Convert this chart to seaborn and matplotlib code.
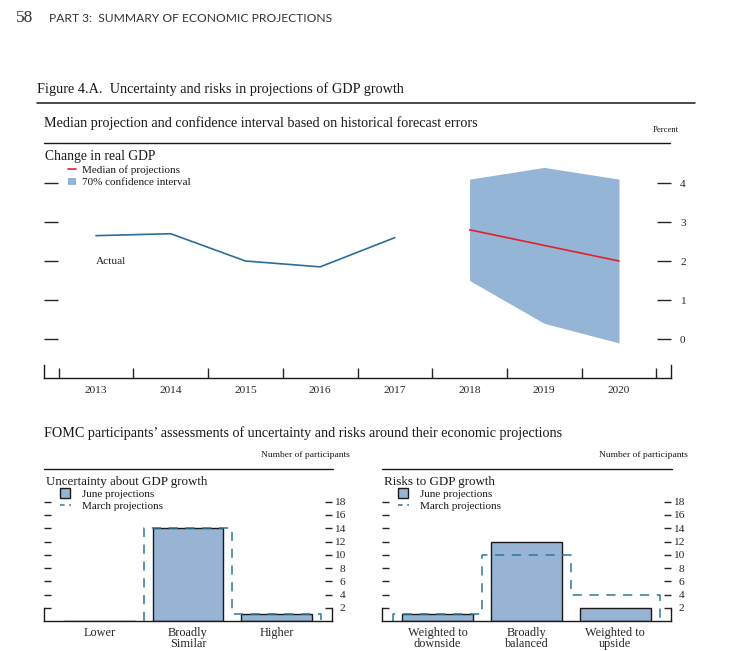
import matplotlib
matplotlib.use("Agg")
import matplotlib.pyplot as plt
import numpy as np
import seaborn as sns
from matplotlib.lines import Line2D
from matplotlib.patches import Patch

# ---- data -------------------------------------------------------------
actual_years = [2013, 2014, 2015, 2016, 2017]
actual_gdp = [2.65, 2.7, 2.0, 1.85, 2.6]
proj_years = [2018, 2019, 2020]
proj_median = [2.8, 2.4, 2.0]
ci_upper = [4.1, 4.4, 4.1]
ci_lower = [1.5, 0.4, -0.1]
year_labels = [str(y) for y in range(2013, 2021)]

unc_cats = ["Lower", "Broadly\nSimilar", "Higher"]
unc_june = [0, 14, 1]
unc_march = [0, 14, 1]
risk_cats = ["Weighted to\ndownside", "Broadly\nbalanced", "Weighted to\nupside"]
risk_june = [1, 12, 2]
risk_march = [1, 10, 4]
count_ticks = [2, 4, 6, 8, 10, 12, 14, 16, 18]

sns.set_style("white")
plt.rcParams["font.family"] = ["Liberation Serif", "DejaVu Serif"]
plt.rcParams["text.color"] = "#1a1a1a"

BAND = "#95b5d7"
BAR = "#97b4d4"
LINE_BLUE = "#2a6e9c"
RED = "#e3212b"
DASH = "#2b7a99"
INK = "#1a1a1a"
W, H = 753, 651
PX = 72 / 100  # points per pixel


def frac(x0, y0, x1, y1):
    return [x0 / W, 1 - y1 / H, (x1 - x0) / W, (y1 - y0) / H]


def rule(fig, x0, x1, y, lw=1.0):
    fig.add_artist(Line2D([x0 / W, x1 / W], [1 - y / H, 1 - y / H], color=INK, lw=lw))


fig = plt.figure(figsize=(W / 100, H / 100), dpi=100)

# header
fig.text(16 / W, 1 - 18 / H, "58", fontsize=12.5, va="center", color="#333333")
fig.text(49 / W, 1 - 19 / H, "PART 3:  SUMMARY OF ECONOMIC PROJECTIONS", fontsize=8.65,
         va="center", family=["Lato", "DejaVu Sans"], color="#333333")
fig.text(37 / W, 1 - 89 / H, "Figure 4.A.  Uncertainty and risks in projections of GDP growth",
         fontsize=10.3, va="center")
rule(fig, 37, 695, 103, lw=1.1)
fig.text(44 / W, 1 - 123 / H,
         "Median projection and confidence interval based on historical forecast errors",
         fontsize=10.2, va="center")
fig.text(666 / W, 1 - 130 / H, "Percent", fontsize=6.2, va="center", ha="center")
rule(fig, 44, 670, 143)

# ---- top panel ---------------------------------------------------------
ax = fig.add_axes(frac(44, 143, 671, 378))
ax.fill_between(proj_years, ci_lower, ci_upper, color=BAND, lw=0)
sns.lineplot(x=actual_years, y=actual_gdp, ax=ax, color=LINE_BLUE, lw=1.2, legend=False)
sns.lineplot(x=proj_years, y=proj_median, ax=ax, color=RED, lw=1.2, legend=False)
ax.set_xlim(2012.304, 2020.696)
ax.set_ylim(-1.0, 5.026)
ax.set_xticks(range(2013, 2021))
ax.set_xticklabels(year_labels)
ax.set_xticks(np.arange(2012.5, 2021, 1), minor=True)
ax.tick_params(axis="x", which="major", length=0, pad=5.5, labelsize=8.2)
ax.tick_params(axis="x", which="minor", direction="in", length=10 * PX, width=1, bottom=True)
ax.set_yticks([0, 1, 2, 3, 4])
ax.tick_params(axis="y", direction="in", length=14 * PX, width=1, left=True, right=True,
               labelleft=False, labelright=True, pad=6.5, labelsize=8.2)
ax.spines["top"].set_visible(False)
for s in ["left", "right"]:
    ax.spines[s].set_bounds(-1.0, -0.67)
for s in ax.spines.values():
    s.set_color(INK)
    s.set_linewidth(1.0)
ax.text(2013, 2.0, "Actual", fontsize=8.2, va="center")
ax.text(2012.315, 4.68, "Change in real GDP", fontsize=9.8, va="center")
handles = [Line2D([], [], color=RED, lw=1.2), Patch(facecolor=BAND, edgecolor="none")]
ax.legend(handles, ["Median of projections", "70% confidence interval"], loc="upper left",
          bbox_to_anchor=(0.038, 0.905), frameon=False, fontsize=8.0, handlelength=0.75,
          handleheight=0.7, handletextpad=0.55, labelspacing=0.22, borderaxespad=0, borderpad=0)
ax.set_xlabel("")
ax.set_ylabel("")

# ---- bottom panels -----------------------------------------------------
fig.text(44 / W, 1 - 433 / H,
         "FOMC participants\u2019 assessments of uncertainty and risks around their economic projections",
         fontsize=10.2, va="center")


def count_panel(x0, x1, cats, june, march, title, label_right):
    rule(fig, x0, x1 + 1, 469)
    fig.text(label_right / W, 1 - 455 / H, "Number of participants", fontsize=6.8,
             ha="right", va="center")
    a = fig.add_axes(frac(x0, 469, x1, 621))
    sns.barplot(x=cats, y=june, ax=a, color=BAR, edgecolor=INK, linewidth=1.0,
                width=0.8, saturation=1)
    # March projections as a dashed step outline around each category slot,
    # starting at the first category that has any participants
    pos = np.arange(len(cats))
    xs = np.repeat(np.r_[pos - 0.5, pos[-1] + 0.5], 2)
    ys = np.r_[0, np.repeat(march, 2), 0]
    first = next(i for i, v in enumerate(march) if v > 0)
    a.plot(xs[2 * first:], ys[2 * first:], color=DASH, lw=1.1, ls=(0, (6, 5)), zorder=2)
    a.set_xlim(-0.627, 2.627)
    a.set_ylim(0, 152 / 6.625)
    a.set_yticks(count_ticks)
    a.set_yticklabels([str(t) for t in count_ticks])
    a.tick_params(axis="y", direction="in", length=7 * PX, width=1, left=True, right=True,
                  labelleft=False, labelright=True, pad=9.8, labelsize=8.2)
    for lbl in a.get_yticklabels():
        lbl.set_ha("right")
    a.tick_params(axis="x", length=0, pad=4.0, labelsize=8.8)
    for lbl in a.get_xticklabels():
        lbl.set_linespacing(0.98)
    a.spines["top"].set_visible(False)
    for s in ["left", "right"]:
        a.spines[s].set_bounds(0, 2)
    for s in a.spines.values():
        s.set_color(INK)
        s.set_linewidth(1.0)
        s.set_zorder(3)
    a.text(-0.6, 20.95, title, fontsize=9.4, va="center")
    hs = [Line2D([], [], ls="none", marker="s", markersize=6.5, markerfacecolor=BAR,
                 markeredgecolor=INK, markeredgewidth=1.0),
          Line2D([], [], color=DASH, lw=1.1, ls=(0, (3, 3)))]
    a.legend(hs, ["June projections", "March projections"], loc="upper left",
             bbox_to_anchor=(0.055, 0.865), frameon=False, fontsize=8.0, handlelength=1.0,
             handletextpad=0.95, labelspacing=0.2, borderaxespad=0, borderpad=0)
    a.set_xlabel("")
    a.set_ylabel("")
    return a


count_panel(44, 332, unc_cats, unc_june, unc_march, "Uncertainty about GDP growth", 350)
count_panel(382, 671, risk_cats, risk_june, risk_march, "Risks to GDP growth", 688)

fig.savefig("out.png", dpi=100)
